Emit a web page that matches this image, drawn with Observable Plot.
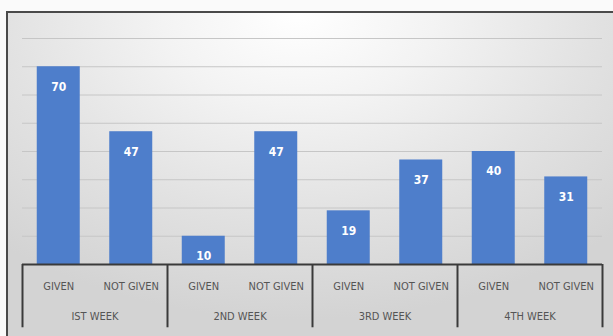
<!DOCTYPE html>
<html>
<head>
<meta charset="utf-8">
<script src="https://cdn.jsdelivr.net/npm/d3@7"></script>
<script src="https://cdn.jsdelivr.net/npm/@observablehq/plot@0.6"></script>
<style>
  html, body { margin: 0; padding: 0; background: #fafafa; }
  #wrap { position: relative; width: 613px; height: 336px; overflow: hidden; background: #fafafa; }
  #panel {
    position: absolute; left: 6px; top: 11px; width: 607px; height: 325px;
    border-top: 2px solid #4a4a4a; border-left: 2px solid #4a4a4a; box-sizing: border-box;
    background: radial-gradient(ellipse 75% 95% at 48% 0%, #ffffff 0%, #f3f3f3 30%, #e2e2e2 65%, #d3d3d3 100%);
  }
  #chart { position: absolute; left: 0; top: 0; }
</style>
</head>
<body>
<div id="wrap"><div id="panel"></div><div id="chart"></div></div>
<script>
const weeks = ["IST WEEK", "2ND WEEK", "3RD WEEK", "4TH WEEK"];
const statuses = ["GIVEN", "NOT GIVEN"];
const given = [70, 10, 19, 40];
const notGiven = [47, 47, 37, 31];
const gridValues = [10, 20, 30, 40, 50, 60, 70, 80];

const rows = [];
weeks.forEach((w, g) => {
  rows.push({week: w, status: statuses[0], value: given[g], pos: 2 * g});
  rows.push({week: w, status: statuses[1], value: notGiven[g], pos: 2 * g + 1});
});
const groups = weeks.map((w, g) => ({week: w, start: 2 * g, mid: 2 * g + 1}));

const font = "'DejaVu Sans Condensed', 'DejaVu Sans', sans-serif";
const pad = 0.2035;

const chart = Plot.plot({
  width: 613,
  height: 336,
  marginLeft: 22,
  marginRight: 11,
  marginTop: 38,
  marginBottom: 72,
  style: {background: "transparent", fontFamily: font, fontStretch: "condensed"},
  x: {type: "linear", domain: [0, 8], axis: null},
  y: {domain: [0, 80], axis: null},
  marks: [
    Plot.ruleY(gridValues, {stroke: "#c6c6c6", strokeWidth: 1}),
    Plot.rectY(rows, {x1: d => d.pos + pad, x2: d => d.pos + 1 - pad, y1: 0, y2: "value", fill: "#4e7ecb"}),
    Plot.text(rows, {x: d => d.pos + 0.5, y: "value", text: d => String(d.value), dy: 20, fill: "white", fontWeight: "bold", fontSize: 12}),
    Plot.ruleY([0], {stroke: "#3a3a3a", strokeWidth: 2}),
    Plot.ruleX([...groups.map(g => g.start), 8], {y1: 0, y2: -22.4, stroke: "#3a3a3a", strokeWidth: 2}),
    Plot.text(rows, {x: d => d.pos + 0.5, y: 0, text: "status", dy: 22, fill: "#555555", fontSize: 11}),
    Plot.text(groups, {x: "mid", y: 0, text: "week", dy: 52, fill: "#555555", fontSize: 11})
  ]
});
document.getElementById("chart").appendChild(chart);
</script>
</body>
</html>
